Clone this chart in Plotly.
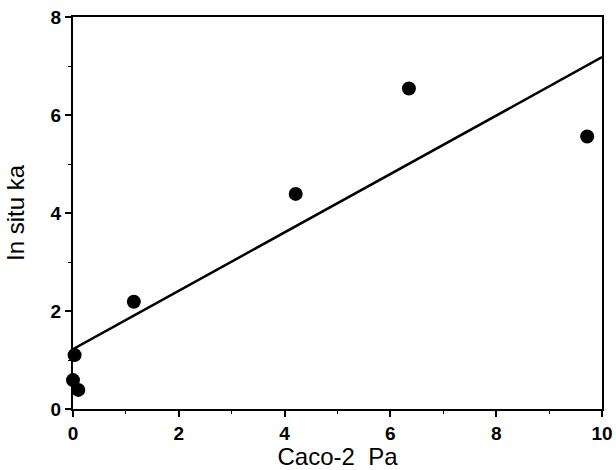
import plotly.graph_objects as go

# Data
caco2_pa = [0.03, 0.00, 0.10, 1.15, 4.21, 6.35, 9.72]
in_situ_ka = [1.10, 0.59, 0.39, 2.19, 4.39, 6.54, 5.56]

fit_x = [0, 10]
fit_y = [1.22, 7.18]

x_ticks = [0, 2, 4, 6, 8, 10]
y_ticks = [0, 2, 4, 6, 8]

FONT = "Liberation Sans"

fig = go.Figure()
fig.add_trace(go.Scatter(x=fit_x, y=fit_y, mode="lines",
                         line=dict(color="black", width=2.5),
                         showlegend=False, cliponaxis=False, hoverinfo="skip"))
fig.add_trace(go.Scatter(x=caco2_pa, y=in_situ_ka, mode="markers",
                         marker=dict(color="black", size=14),
                         showlegend=False, cliponaxis=False))


def axis(rng, vals, title, standoff):
    return dict(
        range=rng, tickvals=vals, ticktext=[str(v) for v in vals],
        automargin=False, ticklabeloverflow="allow",
        showline=True, linecolor="black", linewidth=2, mirror=True,
        ticks="outside", ticklen=6, tickwidth=1.5, tickcolor="black",
        showgrid=False, zeroline=False,
        tickfont=dict(family=FONT, size=19, color="black", weight="bold"),
        title=dict(text=title, standoff=standoff,
                   font=dict(family=FONT, size=24, color="black")),
        minor=dict(dtick=1, ticks="outside", ticklen=3, tickwidth=1, tickcolor="black"),
    )


fig.update_layout(
    width=616, height=470,
    margin=dict(l=73, r=14, t=17, b=61, autoexpand=False),
    plot_bgcolor="white", paper_bgcolor="white",
    xaxis=axis([0, 10], x_ticks, "Caco-2\u00a0\u00a0Pa", 3),
    yaxis=axis([0, 8], y_ticks, "In situ ka", 19),
)

fig.write_html(
    "out.html",
    config={"displayModeBar": False},
    post_script="document.body.style.margin='0';document.body.style.overflow='hidden';",
)
